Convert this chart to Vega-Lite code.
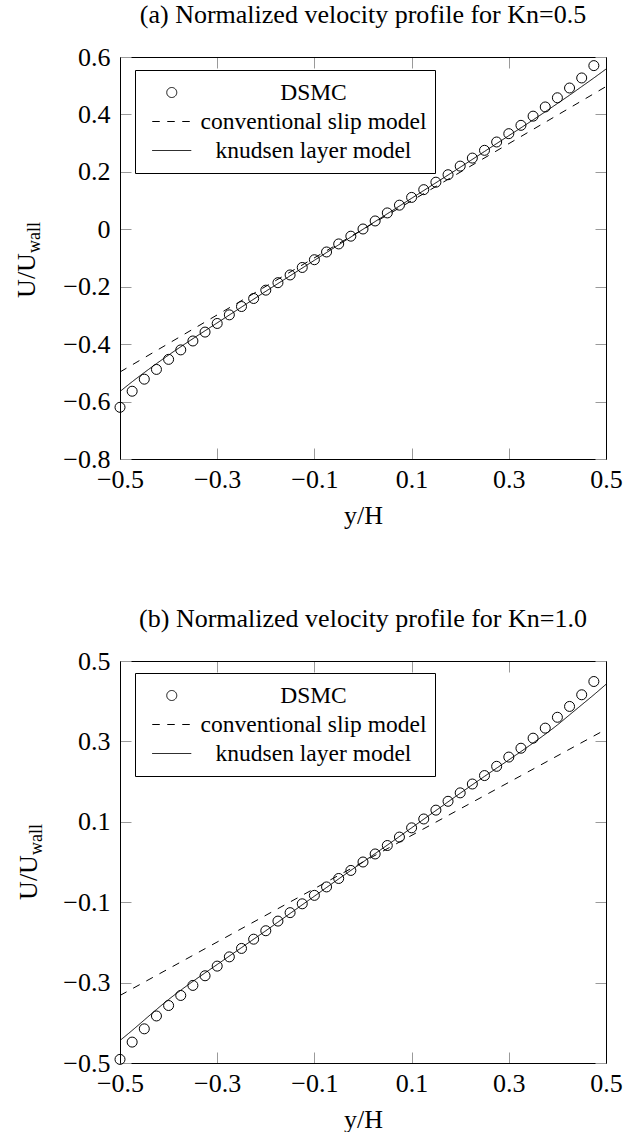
{
  "$schema": "https://vega.github.io/schema/vega-lite/v6.json",
  "padding": {"top": 2, "left": 13, "right": 5, "bottom": 0},
  "background": "white",
  "datasets": {
    "a_dsmc": [
      {"x": -0.5, "y": -0.62, "series": "DSMC"},
      {"x": -0.475, "y": -0.564, "series": "DSMC"},
      {"x": -0.45, "y": -0.522, "series": "DSMC"},
      {"x": -0.425, "y": -0.488, "series": "DSMC"},
      {"x": -0.4, "y": -0.453, "series": "DSMC"},
      {"x": -0.375, "y": -0.42, "series": "DSMC"},
      {"x": -0.35, "y": -0.389, "series": "DSMC"},
      {"x": -0.325, "y": -0.358, "series": "DSMC"},
      {"x": -0.3, "y": -0.328, "series": "DSMC"},
      {"x": -0.275, "y": -0.298, "series": "DSMC"},
      {"x": -0.25, "y": -0.269, "series": "DSMC"},
      {"x": -0.225, "y": -0.241, "series": "DSMC"},
      {"x": -0.2, "y": -0.212, "series": "DSMC"},
      {"x": -0.175, "y": -0.186, "series": "DSMC"},
      {"x": -0.15, "y": -0.159, "series": "DSMC"},
      {"x": -0.125, "y": -0.133, "series": "DSMC"},
      {"x": -0.1, "y": -0.106, "series": "DSMC"},
      {"x": -0.075, "y": -0.079, "series": "DSMC"},
      {"x": -0.05, "y": -0.051, "series": "DSMC"},
      {"x": -0.025, "y": -0.024, "series": "DSMC"},
      {"x": 0, "y": 0.001, "series": "DSMC"},
      {"x": 0.025, "y": 0.029, "series": "DSMC"},
      {"x": 0.05, "y": 0.057, "series": "DSMC"},
      {"x": 0.075, "y": 0.084, "series": "DSMC"},
      {"x": 0.1, "y": 0.111, "series": "DSMC"},
      {"x": 0.125, "y": 0.138, "series": "DSMC"},
      {"x": 0.15, "y": 0.164, "series": "DSMC"},
      {"x": 0.175, "y": 0.19, "series": "DSMC"},
      {"x": 0.2, "y": 0.22, "series": "DSMC"},
      {"x": 0.225, "y": 0.248, "series": "DSMC"},
      {"x": 0.25, "y": 0.275, "series": "DSMC"},
      {"x": 0.275, "y": 0.304, "series": "DSMC"},
      {"x": 0.3, "y": 0.333, "series": "DSMC"},
      {"x": 0.325, "y": 0.362, "series": "DSMC"},
      {"x": 0.35, "y": 0.394, "series": "DSMC"},
      {"x": 0.375, "y": 0.426, "series": "DSMC"},
      {"x": 0.4, "y": 0.458, "series": "DSMC"},
      {"x": 0.425, "y": 0.492, "series": "DSMC"},
      {"x": 0.45, "y": 0.527, "series": "DSMC"},
      {"x": 0.475, "y": 0.57, "series": "DSMC"}
    ],
    "a_models": [
      {"x": -0.5, "y": -0.497, "series": "conventional slip model"},
      {"x": 0, "y": 0, "series": "conventional slip model"},
      {"x": 0.5, "y": 0.497, "series": "conventional slip model"},
      {"x": -0.5, "y": -0.565, "series": "knudsen layer model"},
      {"x": -0.475, "y": -0.531, "series": "knudsen layer model"},
      {"x": -0.45, "y": -0.499, "series": "knudsen layer model"},
      {"x": -0.425, "y": -0.468, "series": "knudsen layer model"},
      {"x": -0.4, "y": -0.438, "series": "knudsen layer model"},
      {"x": -0.35, "y": -0.381, "series": "knudsen layer model"},
      {"x": -0.3, "y": -0.326, "series": "knudsen layer model"},
      {"x": -0.25, "y": -0.271, "series": "knudsen layer model"},
      {"x": -0.2, "y": -0.216, "series": "knudsen layer model"},
      {"x": -0.15, "y": -0.162, "series": "knudsen layer model"},
      {"x": -0.1, "y": -0.108, "series": "knudsen layer model"},
      {"x": -0.05, "y": -0.054, "series": "knudsen layer model"},
      {"x": 0, "y": 0, "series": "knudsen layer model"},
      {"x": 0.05, "y": 0.054, "series": "knudsen layer model"},
      {"x": 0.1, "y": 0.108, "series": "knudsen layer model"},
      {"x": 0.15, "y": 0.162, "series": "knudsen layer model"},
      {"x": 0.2, "y": 0.216, "series": "knudsen layer model"},
      {"x": 0.25, "y": 0.271, "series": "knudsen layer model"},
      {"x": 0.3, "y": 0.326, "series": "knudsen layer model"},
      {"x": 0.35, "y": 0.381, "series": "knudsen layer model"},
      {"x": 0.4, "y": 0.438, "series": "knudsen layer model"},
      {"x": 0.425, "y": 0.467, "series": "knudsen layer model"},
      {"x": 0.45, "y": 0.497, "series": "knudsen layer model"},
      {"x": 0.475, "y": 0.527, "series": "knudsen layer model"},
      {"x": 0.5, "y": 0.558, "series": "knudsen layer model"}
    ],
    "b_dsmc": [
      {"x": -0.5, "y": -0.491, "series": "DSMC"},
      {"x": -0.475, "y": -0.448, "series": "DSMC"},
      {"x": -0.45, "y": -0.415, "series": "DSMC"},
      {"x": -0.425, "y": -0.383, "series": "DSMC"},
      {"x": -0.4, "y": -0.357, "series": "DSMC"},
      {"x": -0.375, "y": -0.332, "series": "DSMC"},
      {"x": -0.35, "y": -0.307, "series": "DSMC"},
      {"x": -0.325, "y": -0.283, "series": "DSMC"},
      {"x": -0.3, "y": -0.259, "series": "DSMC"},
      {"x": -0.275, "y": -0.236, "series": "DSMC"},
      {"x": -0.25, "y": -0.215, "series": "DSMC"},
      {"x": -0.225, "y": -0.192, "series": "DSMC"},
      {"x": -0.2, "y": -0.171, "series": "DSMC"},
      {"x": -0.175, "y": -0.147, "series": "DSMC"},
      {"x": -0.15, "y": -0.126, "series": "DSMC"},
      {"x": -0.125, "y": -0.104, "series": "DSMC"},
      {"x": -0.1, "y": -0.083, "series": "DSMC"},
      {"x": -0.075, "y": -0.062, "series": "DSMC"},
      {"x": -0.05, "y": -0.041, "series": "DSMC"},
      {"x": -0.025, "y": -0.021, "series": "DSMC"},
      {"x": 0, "y": 0, "series": "DSMC"},
      {"x": 0.025, "y": 0.02, "series": "DSMC"},
      {"x": 0.05, "y": 0.041, "series": "DSMC"},
      {"x": 0.075, "y": 0.062, "series": "DSMC"},
      {"x": 0.1, "y": 0.085, "series": "DSMC"},
      {"x": 0.125, "y": 0.107, "series": "DSMC"},
      {"x": 0.15, "y": 0.129, "series": "DSMC"},
      {"x": 0.175, "y": 0.151, "series": "DSMC"},
      {"x": 0.2, "y": 0.172, "series": "DSMC"},
      {"x": 0.225, "y": 0.194, "series": "DSMC"},
      {"x": 0.25, "y": 0.215, "series": "DSMC"},
      {"x": 0.275, "y": 0.238, "series": "DSMC"},
      {"x": 0.3, "y": 0.261, "series": "DSMC"},
      {"x": 0.325, "y": 0.283, "series": "DSMC"},
      {"x": 0.35, "y": 0.308, "series": "DSMC"},
      {"x": 0.375, "y": 0.333, "series": "DSMC"},
      {"x": 0.4, "y": 0.36, "series": "DSMC"},
      {"x": 0.425, "y": 0.387, "series": "DSMC"},
      {"x": 0.45, "y": 0.416, "series": "DSMC"},
      {"x": 0.475, "y": 0.449, "series": "DSMC"}
    ],
    "b_models": [
      {"x": -0.5, "y": -0.332, "series": "conventional slip model"},
      {"x": 0, "y": 0, "series": "conventional slip model"},
      {"x": 0.5, "y": 0.33, "series": "conventional slip model"},
      {"x": -0.5, "y": -0.444, "series": "knudsen layer model"},
      {"x": -0.475, "y": -0.419, "series": "knudsen layer model"},
      {"x": -0.45, "y": -0.393, "series": "knudsen layer model"},
      {"x": -0.425, "y": -0.367, "series": "knudsen layer model"},
      {"x": -0.4, "y": -0.342, "series": "knudsen layer model"},
      {"x": -0.375, "y": -0.319, "series": "knudsen layer model"},
      {"x": -0.35, "y": -0.297, "series": "knudsen layer model"},
      {"x": -0.3, "y": -0.255, "series": "knudsen layer model"},
      {"x": -0.25, "y": -0.213, "series": "knudsen layer model"},
      {"x": -0.2, "y": -0.171, "series": "knudsen layer model"},
      {"x": -0.15, "y": -0.128, "series": "knudsen layer model"},
      {"x": -0.1, "y": -0.085, "series": "knudsen layer model"},
      {"x": -0.05, "y": -0.042, "series": "knudsen layer model"},
      {"x": 0, "y": 0, "series": "knudsen layer model"},
      {"x": 0.05, "y": 0.042, "series": "knudsen layer model"},
      {"x": 0.1, "y": 0.085, "series": "knudsen layer model"},
      {"x": 0.15, "y": 0.128, "series": "knudsen layer model"},
      {"x": 0.2, "y": 0.171, "series": "knudsen layer model"},
      {"x": 0.25, "y": 0.213, "series": "knudsen layer model"},
      {"x": 0.3, "y": 0.254, "series": "knudsen layer model"},
      {"x": 0.35, "y": 0.296, "series": "knudsen layer model"},
      {"x": 0.4, "y": 0.341, "series": "knudsen layer model"},
      {"x": 0.425, "y": 0.366, "series": "knudsen layer model"},
      {"x": 0.45, "y": 0.391, "series": "knudsen layer model"},
      {"x": 0.475, "y": 0.416, "series": "knudsen layer model"},
      {"x": 0.5, "y": 0.442, "series": "knudsen layer model"}
    ]
  },
  "vconcat": [
    {
      "width": 486,
      "height": 402,
      "title": {"text": "(a) Normalized velocity profile for Kn=0.5"},
      "layer": [
        {
          "data": {"name": "a_models"},
          "mark": {"type": "line", "color": "black", "strokeWidth": 1, "interpolate": "monotone"},
          "encoding": {
            "x": {"field": "x", "type": "quantitative", "scale": {"domain": [-0.5, 0.5], "nice": false, "zero": false}, "axis": null},
            "y": {"field": "y", "type": "quantitative", "scale": {"domain": [-0.8, 0.6], "nice": false, "zero": false}, "axis": null},
            "strokeDash": {
              "field": "series", "type": "nominal",
              "scale": {"domain": ["DSMC", "conventional slip model", "knudsen layer model"], "range": [[1, 0], [7.5, 7.5], [1, 0]]},
              "legend": {"title": null, "orient": "none", "legendX": 15, "legendY": 13}
            }
          }
        },
        {
          "data": {"name": "a_dsmc"},
          "mark": {"type": "point", "filled": false, "color": "black", "size": 100, "strokeWidth": 1, "opacity": 1},
          "encoding": {
            "x": {"field": "x", "type": "quantitative", "scale": {"domain": [-0.5, 0.5], "nice": false, "zero": false},
                  "axis": {"orient": "bottom", "values": [-0.5, -0.3, -0.1, 0.1, 0.3, 0.5], "format": ".1f", "title": "y/H"}},
            "y": {"field": "y", "type": "quantitative", "scale": {"domain": [-0.8, 0.6], "nice": false, "zero": false},
                  "axis": {"orient": "left", "values": [-0.8, -0.6, -0.4, -0.2, 0, 0.2, 0.4, 0.6], "format": ".1~f", "title": "U/U", "titleX": -86, "titleY": 218, "titleBaseline": "alphabetic", "titleAlign": "center", "titleAngle": -90}},
            "shape": {
              "field": "series", "type": "nominal",
              "scale": {"domain": ["DSMC", "conventional slip model", "knudsen layer model"], "range": ["circle", "M-3.9,0L3.9,0", "M-3.9,0L3.9,0"]},
              "legend": {"title": null, "orient": "none", "legendX": 15, "legendY": 13}
            }
          }
        },
        {
          "data": {"name": "a_dsmc"},
          "mark": {"type": "point", "opacity": 0},
          "encoding": {
            "x": {"field": "x", "type": "quantitative", "scale": {"domain": [-0.5, 0.5], "nice": false, "zero": false},
                  "axis": {"orient": "top", "values": [-0.5, -0.3, -0.1, 0.1, 0.3, 0.5], "labels": false, "title": null}},
            "y": {"field": "y", "type": "quantitative", "scale": {"domain": [-0.8, 0.6], "nice": false, "zero": false},
                  "axis": {"orient": "right", "values": [-0.8, -0.6, -0.4, -0.2, 0, 0.2, 0.4, 0.6], "labels": false, "title": null}}
          }
        },
        {
          "data": {"name": "a_dsmc"},
          "mark": {"type": "point", "opacity": 0},
          "encoding": {
            "x": {"field": "x", "type": "quantitative", "scale": {"domain": [-0.5, 0.5], "nice": false, "zero": false}, "axis": null},
            "y": {"field": "y", "type": "quantitative", "scale": {"domain": [-0.8, 0.6], "nice": false, "zero": false},
                  "axis": {"orient": "left", "domain": false, "ticks": false, "labels": false, "title": "wall", "titleFontSize": 18, "titleX": -81, "titleY": 180, "titleBaseline": "alphabetic", "titleAlign": "center", "titleAngle": -90}}
          }
        }
      ],
      "resolve": {"axis": {"x": "independent", "y": "independent"}}
    },
    {
      "width": 486,
      "height": 402,
      "title": {"text": "(b) Normalized velocity profile for Kn=1.0"},
      "layer": [
        {
          "data": {"name": "b_models"},
          "mark": {"type": "line", "color": "black", "strokeWidth": 1, "interpolate": "monotone"},
          "encoding": {
            "x": {"field": "x", "type": "quantitative", "scale": {"domain": [-0.5, 0.5], "nice": false, "zero": false}, "axis": null},
            "y": {"field": "y", "type": "quantitative", "scale": {"domain": [-0.5, 0.5], "nice": false, "zero": false}, "axis": null},
            "strokeDash": {
              "field": "series", "type": "nominal",
              "scale": {"domain": ["DSMC", "conventional slip model", "knudsen layer model"], "range": [[1, 0], [7.5, 7.5], [1, 0]]},
              "legend": {"title": null, "orient": "none", "legendX": 15, "legendY": 12}
            }
          }
        },
        {
          "data": {"name": "b_dsmc"},
          "mark": {"type": "point", "filled": false, "color": "black", "size": 100, "strokeWidth": 1, "opacity": 1},
          "encoding": {
            "x": {"field": "x", "type": "quantitative", "scale": {"domain": [-0.5, 0.5], "nice": false, "zero": false},
                  "axis": {"orient": "bottom", "values": [-0.5, -0.3, -0.1, 0.1, 0.3, 0.5], "format": ".1f", "title": "y/H"}},
            "y": {"field": "y", "type": "quantitative", "scale": {"domain": [-0.5, 0.5], "nice": false, "zero": false},
                  "axis": {"orient": "left", "values": [-0.5, -0.3, -0.1, 0.1, 0.3, 0.5], "format": ".1f", "title": "U/U", "titleX": -84, "titleY": 216, "titleBaseline": "alphabetic", "titleAlign": "center", "titleAngle": -90}},
            "shape": {
              "field": "series", "type": "nominal",
              "scale": {"domain": ["DSMC", "conventional slip model", "knudsen layer model"], "range": ["circle", "M-3.9,0L3.9,0", "M-3.9,0L3.9,0"]},
              "legend": {"title": null, "orient": "none", "legendX": 15, "legendY": 12}
            }
          }
        },
        {
          "data": {"name": "b_dsmc"},
          "mark": {"type": "point", "opacity": 0},
          "encoding": {
            "x": {"field": "x", "type": "quantitative", "scale": {"domain": [-0.5, 0.5], "nice": false, "zero": false},
                  "axis": {"orient": "top", "values": [-0.5, -0.3, -0.1, 0.1, 0.3, 0.5], "labels": false, "title": null}},
            "y": {"field": "y", "type": "quantitative", "scale": {"domain": [-0.5, 0.5], "nice": false, "zero": false},
                  "axis": {"orient": "right", "values": [-0.5, -0.3, -0.1, 0.1, 0.3, 0.5], "labels": false, "title": null}}
          }
        },
        {
          "data": {"name": "b_dsmc"},
          "mark": {"type": "point", "opacity": 0},
          "encoding": {
            "x": {"field": "x", "type": "quantitative", "scale": {"domain": [-0.5, 0.5], "nice": false, "zero": false}, "axis": null},
            "y": {"field": "y", "type": "quantitative", "scale": {"domain": [-0.5, 0.5], "nice": false, "zero": false},
                  "axis": {"orient": "left", "domain": false, "ticks": false, "labels": false, "title": "wall", "titleFontSize": 18, "titleX": -79, "titleY": 178, "titleBaseline": "alphabetic", "titleAlign": "center", "titleAngle": -90}}
          }
        }
      ],
      "resolve": {"axis": {"x": "independent", "y": "independent"}}
    }
  ],
  "spacing": 78,
  "resolve": {
    "scale": {"shape": "independent", "strokeDash": "independent"},
    "legend": {"shape": "independent", "strokeDash": "independent"}
  },
  "config": {
    "view": {"stroke": null},
    "font": "Liberation Serif",
    "title": {"font": "Liberation Serif", "fontSize": 26, "fontWeight": "normal", "color": "black", "anchor": "middle", "baseline": "alphabetic", "offset": 16},
    "axis": {
      "labelFont": "Liberation Serif", "labelFontSize": 26, "labelColor": "black",
      "titleFont": "Liberation Serif", "titleFontSize": 26, "titleFontWeight": "normal", "titleColor": "black",
      "domainColor": "black", "domainWidth": 1, "tickColor": "#9a9a9a", "tickSize": -11, "tickWidth": 1,
      "grid": false, "labelFlush": false, "labelOverlap": false
    },
    "axisX": {"labelPadding": 18, "titlePadding": 10},
    "axisY": {"labelPadding": 21},
    "legend": {
      "strokeColor": "black", "fillColor": "white", "padding": 8, "cornerRadius": 0,
      "labelFont": "Liberation Serif", "labelFontSize": 23.5, "labelColor": "black", "labelAlign": "center", "labelOffset": 130, "labelLimit": 400,
      "symbolSize": 100, "symbolStrokeColor": "black", "symbolStrokeWidth": 1, "symbolOffset": 17,
      "clipHeight": 29, "rowPadding": 0
    }
  }
}
